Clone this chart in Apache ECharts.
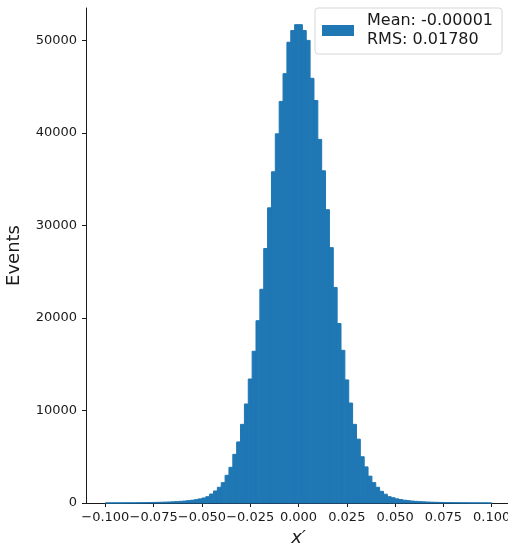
<!DOCTYPE html>
<html>
<head>
<meta charset="utf-8">
<script src="https://cdn.jsdelivr.net/npm/echarts@6/dist/echarts.min.js"></script>
<style>
  html, body { margin: 0; padding: 0; background: #fff; }
  #chart { width: 508px; height: 547px; }
</style>
</head>
<body>
<div id="chart"></div>
<script>
// histogram bins: 100 bins of width 0.002 from -0.1 to 0.1
var binLow = -0.1;
var binWidth = 0.002;

// events per bin, left to right
var counts = [
    6, 8, 10, 12, 14, 17, 20, 25, 30, 35,
    42, 50, 60, 70, 80, 95, 110, 130, 150, 180,
    210, 250, 300, 360, 440, 540, 680, 970, 1300, 1700,
    2200, 2990, 3860, 5260, 6600, 8500, 10700, 13400, 16400, 19700,
    23100, 27500, 31900, 35800, 39900, 43400, 46400, 49800, 51060, 51700,
    51700, 51060, 50000, 45900, 43500, 39300, 35900, 31700, 27600, 23300,
    19400, 16500, 13300, 10800, 8500, 6900, 5000, 3900, 2900, 2200,
    1700, 1260, 950, 680, 570, 450, 370, 300, 250, 210,
    175, 145, 125, 105, 90, 78, 66, 56, 47, 40,
    34, 28, 23, 19, 16, 13, 11, 9, 7, 5
];

var xTicks = [-0.1, -0.075, -0.05, -0.025, 0, 0.025, 0.05, 0.075, 0.1];
var legendLabel = 'Mean: -0.00001\nRMS: 0.01780';

var bars = [];
for (var i = 0; i < counts.length; i++) {
    var lo = binLow + i * binWidth;
    bars.push([lo, lo + binWidth, counts[i]]);
}

function fmtTick(v) {
    var s = Math.abs(v).toFixed(3);
    return v < 0 ? '\u2212' + s : s;
}

var chart = echarts.init(document.getElementById('chart'));
chart.setOption({
    animation: false,
    grid: { left: 86, top: 8, width: 425, height: 495, outerBoundsMode: 'none', containLabel: false },
    legend: {
        left: 315, top: 8,
        padding: [4, 9, 5, 7],
        itemWidth: 32, itemHeight: 11, itemGap: 0,
        backgroundColor: '#fff',
        borderColor: '#d6d6d6', borderWidth: 1, borderRadius: 3,
        textStyle: {
            fontFamily: 'DejaVu Sans', fontSize: 16, color: '#1a1a1a',
            lineHeight: 18.5, padding: [0, 0, 0, 8]
        },
        data: [{ name: legendLabel, icon: 'rect' }]
    },
    xAxis: {
        type: 'value',
        min: -0.11, max: 0.11,
        name: 'x\u2032',
        nameLocation: 'middle',
        nameGap: 26,
        nameTextStyle: { fontFamily: 'DejaVu Sans', fontStyle: 'italic', fontSize: 18, color: '#1a1a1a' },
        splitLine: { show: false },
        axisLine: { onZero: false, lineStyle: { color: '#1a1a1a', width: 1 } },
        axisTick: { customValues: xTicks, length: 4, lineStyle: { color: '#1a1a1a' } },
        axisLabel: {
            customValues: xTicks,
            formatter: fmtTick,
            showMinLabel: true, showMaxLabel: true,
            hideOverlap: false,
            margin: 8,
            fontFamily: 'DejaVu Sans', fontSize: 13, color: '#1a1a1a'
        }
    },
    yAxis: {
        type: 'value',
        min: 0, max: 53500, interval: 10000,
        name: 'Events',
        nameLocation: 'middle',
        nameGap: 63,
        nameTextStyle: { fontFamily: 'DejaVu Sans', fontSize: 18, color: '#1a1a1a' },
        splitLine: { show: false },
        axisLine: { show: true, onZero: false, lineStyle: { color: '#1a1a1a', width: 1 } },
        axisTick: { show: true, length: 4, lineStyle: { color: '#1a1a1a' } },
        axisLabel: {
            showMaxLabel: false,
            margin: 9,
            formatter: function (v) { return String(v); },
            fontFamily: 'DejaVu Sans', fontSize: 13, color: '#1a1a1a'
        }
    },
    series: [{
        name: legendLabel,
        type: 'custom',
        itemStyle: { color: '#1f77b4' },
        encode: { x: [0, 1], y: 2 },
        data: bars,
        renderItem: function (params, api) {
            var p0 = api.coord([api.value(0), 0]);
            var p1 = api.coord([api.value(1), api.value(2)]);
            return {
                type: 'rect',
                shape: { x: p0[0], y: p1[1], width: p1[0] - p0[0], height: p0[1] - p1[1] },
                style: { fill: '#1f77b4', stroke: '#1f77b4', lineWidth: 1 }
            };
        }
    }]
});
</script>
</body>
</html>
